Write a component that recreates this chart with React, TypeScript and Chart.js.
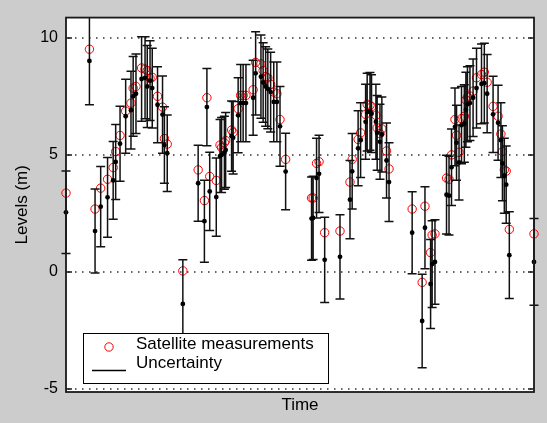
import { useEffect, useRef } from "react";
import { Chart, registerables } from "chart.js";

Chart.register(...registerables);

// ---- data (time in days from first sample) ----
const TIME_DAYS = [
  0, 75, 93, 111, 133, 151, 159, 173, 191, 208,
  215, 224, 242, 253, 260, 269, 276, 293, 309, 315,
  324, 374, 423, 443, 451, 460, 481, 493, 498, 507,
  511, 530, 535, 551, 559, 567, 576, 599, 607, 624,
  631, 639, 646, 655, 665, 675, 685, 703, 786, 791,
  802, 810, 828, 877, 909, 916, 935, 943, 959, 964,
  973, 978, 992, 996, 1005, 1011, 1026, 1034, 1108, 1140,
  1149, 1167, 1172, 1181, 1218, 1226, 1234, 1245, 1250, 1258,
  1266, 1275, 1280, 1285, 1293, 1303, 1314, 1330, 1339, 1348,
  1367, 1383, 1392, 1397, 1403, 1409, 1419, 1498,
];

const SATELLITE = [
  3.36, 9.5, 2.68, 3.57, 3.95, 4.45, 5.13, 5.82, 6.86, 7.2,
  7.84, 7.91, 8.7, 8.65, 8.59, 8.26, 8.3, 7.49, 7.03, 5.69,
  5.45, 0.04, 4.35, 3.04, 7.43, 4.07, 3.9, 5.41, 5.3, 5.51,
  5.6, 6.05, 5.95, 6.96, 7.53, 7.53, 7.53, 7.77, 8.94, 8.87,
  8.59, 8.33, 8.28, 8.0, 7.67, 7.6, 6.5, 4.8, 3.15, 3.15,
  4.63, 4.7, 1.67, 1.74, 3.83, 4.8, 5.65, 5.93, 6.72, 7.15,
  7.1, 7.05, 6.68, 6.14, 5.9, 6.1, 5.16, 4.39, 2.68, -0.45,
  2.8, 0.82, 1.57, 1.62, 4.0, 3.95, 4.99, 6.5, 5.83, 5.1,
  6.54, 6.64, 7.34, 7.46, 7.5, 7.71, 8.28, 8.42, 8.52, 8.09,
  7.06, 6.64, 5.88, 5.13, 4.35, 4.3, 1.81, 1.62,
];

const ESTIMATE = [
  2.54, 9.0, 1.74, 2.78, 3.18, 3.9, 4.69, 5.47, 6.64, 6.9,
  7.49, 7.6, 8.23, 8.28, 7.91, 8.16, 7.84, 7.13, 6.71, 5.41,
  5.06, -1.37, 3.78, 2.16, 7.03, 3.43, 3.19, 4.94, 4.99, 5.08,
  5.2, 5.79, 5.72, 6.68, 7.2, 7.2, 7.2, 7.43, 8.47, 8.33,
  8.08, 7.91, 7.81, 7.67, 7.25, 7.25, 6.21, 4.28, 2.27, 2.3,
  4.0, 4.18, 0.51, 0.64, 3.08, 4.29, 5.27, 5.62, 6.4, 6.82,
  6.85, 6.75, 6.4, 5.93, 5.55, 5.86, 4.75, 3.83, 1.67, -2.1,
  1.88, -0.52, 0.33, 0.42, 3.29, 3.25, 4.46, 6.19, 5.51, 4.67,
  6.26, 6.33, 6.92, 7.15, 7.2, 7.43, 7.84, 8.02, 8.05, 7.6,
  6.72, 6.36, 5.62, 4.63, 4.1, 3.72, 0.71, 0.42,
];

const UNCERTAINTY = [
  1.76, 1.87, 1.79, 1.71, 1.7, 1.66, 1.6, 1.6, 1.58, 1.66,
  1.7, 1.7, 1.8, 1.75, 1.75, 1.7, 1.7, 1.62, 1.65, 1.63,
  1.63, 1.88, 1.62, 1.75, 1.65, 1.67, 1.67, 1.56, 1.6, 1.56,
  1.6, 1.5, 1.55, 1.6, 1.65, 1.65, 1.65, 1.6, 1.78, 1.78,
  1.7, 1.7, 1.7, 1.7, 1.7, 1.7, 1.7, 1.63, 1.78, 1.78,
  1.7, 1.65, 1.82, 1.8, 1.67, 1.61, 1.6, 1.6, 1.6, 1.66,
  1.66, 1.66, 1.6, 1.6, 1.6, 1.6, 1.6, 1.68, 1.75, 2.0,
  1.75, 1.9, 1.85, 1.8, 1.68, 1.68, 1.63, 1.66, 1.6, 1.6,
  1.65, 1.65, 1.6, 1.6, 1.6, 1.65, 1.7, 1.7, 1.7, 1.67,
  1.63, 1.6, 1.6, 1.6, 1.6, 1.65, 1.85, 1.85,
];

const Y_TICKS = [-5, 0, 5, 10];
const X_RANGE = [0, 1498];
const Y_RANGE = [-5.13, 10.85];
const SERIES_LABELS = ["Satellite measurements", "Uncertainty"];
const X_TITLE = "Time";
const Y_TITLE = "Levels (m)";

const FONT = '"Liberation Sans", Arial, Helvetica, sans-serif';

const matlabPlugin = {
  id: "matlabLook",
  beforeDraw(chart: any) {
    const { ctx, chartArea: a, width, height } = chart;
    ctx.save();
    ctx.fillStyle = "#cccccc";
    ctx.fillRect(0, 0, width, height);
    ctx.fillStyle = "#ffffff";
    ctx.fillRect(a.left, a.top, a.right - a.left, a.bottom - a.top);
    const ys = chart.scales.y;
    ctx.strokeStyle = "#333333";
    ctx.lineWidth = 1.5;
    ctx.setLineDash([1.5, 5.5]);
    for (const t of ys.ticks) {
      const py = Math.round(ys.getPixelForValue(t.value));
      ctx.beginPath();
      ctx.moveTo(a.left + 2, py);
      ctx.lineTo(a.right, py);
      ctx.stroke();
    }
    ctx.restore();
  },
  beforeDatasetDraw(chart: any, args: any) {
    if (args.index !== 1) return;
    const { ctx, chartArea: a } = chart;
    const xs = chart.scales.x;
    const ys = chart.scales.y;
    ctx.save();
    ctx.beginPath();
    ctx.rect(0, a.top, chart.width, a.bottom - a.top);
    ctx.clip();
    ctx.strokeStyle = "#111111";
    ctx.lineWidth = 1.5;
    ctx.beginPath();
    TIME_DAYS.forEach((t, i) => {
      const px = xs.getPixelForValue(t);
      const lo = ys.getPixelForValue(ESTIMATE[i] - UNCERTAINTY[i]);
      const hi = ys.getPixelForValue(ESTIMATE[i] + UNCERTAINTY[i]);
      ctx.moveTo(px, lo);
      ctx.lineTo(px, hi);
      ctx.moveTo(px - 4.5, lo);
      ctx.lineTo(px + 4.5, lo);
      ctx.moveTo(px - 4.5, hi);
      ctx.lineTo(px + 4.5, hi);
    });
    ctx.stroke();
    ctx.restore();
  },
  afterDraw(chart: any) {
    const { ctx, chartArea: a } = chart;
    const ys = chart.scales.y;
    ctx.save();
    // frame
    ctx.strokeStyle = "#1a1a1a";
    ctx.lineWidth = 1.8;
    ctx.strokeRect(a.left, a.top, a.right - a.left, a.bottom - a.top);
    // inward ticks on both sides
    ctx.lineWidth = 1.5;
    ctx.beginPath();
    for (const t of ys.ticks) {
      const py = Math.round(ys.getPixelForValue(t.value));
      ctx.moveTo(a.left, py);
      ctx.lineTo(a.left + 6, py);
      ctx.moveTo(a.right - 6, py);
      ctx.lineTo(a.right, py);
    }
    ctx.stroke();

    // legend box
    const bx = a.left + 17;
    const by = a.bottom - 59;
    const bw = 245;
    const bh = 50;
    ctx.fillStyle = "#ffffff";
    ctx.fillRect(bx, by, bw, bh);
    ctx.strokeStyle = "#000000";
    ctx.lineWidth = 1;
    ctx.strokeRect(bx + 0.5, by + 0.5, bw, bh);

    const ds = chart.data.datasets;
    // satellite marker
    ctx.strokeStyle = "#ff0000";
    ctx.lineWidth = 1;
    ctx.beginPath();
    ctx.arc(bx + 26, by + 14, 4.2, 0, Math.PI * 2);
    ctx.stroke();
    // uncertainty line
    ctx.strokeStyle = "#000000";
    ctx.lineWidth = 1.5;
    ctx.beginPath();
    ctx.moveTo(bx + 9, by + 37.5);
    ctx.lineTo(bx + 43, by + 37.5);
    ctx.stroke();

    ctx.fillStyle = "#000000";
    ctx.font = `17px ${FONT}`;
    ctx.textAlign = "left";
    ctx.textBaseline = "alphabetic";
    ctx.fillText(ds[0].label, bx + 53, by + 16);
    ctx.fillText(ds[1].label, bx + 53, by + 35);
    ctx.restore();
  },
};

export default function App() {
  const canvasRef = useRef<HTMLCanvasElement | null>(null);

  useEffect(() => {
    document.body.style.margin = "0";
    const canvas = canvasRef.current;
    if (!canvas) return;

    const satellite = TIME_DAYS.map((t, i) => ({ x: t, y: SATELLITE[i] }));
    const estimate = TIME_DAYS.map((t, i) => ({ x: t, y: ESTIMATE[i] }));

    const chart = new Chart(canvas, {
      type: "scatter",
      data: {
        datasets: [
          {
            label: SERIES_LABELS[0],
            data: satellite,
            pointStyle: "circle",
            pointRadius: 4.2,
            pointBorderColor: "#ff0000",
            pointBackgroundColor: "rgba(0,0,0,0)",
            pointBorderWidth: 1,
            showLine: false,
            order: 2,
            clip: false,
          } as any,
          {
            label: SERIES_LABELS[1],
            data: estimate,
            pointStyle: "circle",
            pointRadius: 2.4,
            pointBorderWidth: 0,
            pointBackgroundColor: "#000000",
            pointBorderColor: "#000000",
            showLine: false,
            order: 1,
            clip: false,
          } as any,
        ],
      },
      options: {
        animation: false,
        responsive: false,
        devicePixelRatio: 1,
        events: [],
        layout: { padding: { top: 15, right: 13, left: 0, bottom: 0 } },
        plugins: {
          legend: { display: false },
          tooltip: { enabled: false },
        },
        scales: {
          x: {
            type: "linear",
            min: X_RANGE[0],
            max: X_RANGE[1],
            grid: { display: false, drawTicks: false },
            border: { display: false },
            ticks: { display: false },
            title: {
              display: true,
              text: X_TITLE,
              color: "#000000",
              font: { family: FONT, size: 17 },
              padding: { top: 0, bottom: 7 },
            },
            afterFit: (scale: any) => {
              scale.height = 31;
            },
          },
          y: {
            type: "linear",
            min: Y_RANGE[0],
            max: Y_RANGE[1],
            grid: { display: false, drawTicks: false },
            border: { display: false },
            afterBuildTicks: (scale: any) => {
              scale.ticks = Y_TICKS.map((v) => ({ value: v }));
            },
            ticks: {
              color: "#000000",
              font: { family: FONT, size: 16 },
              padding: 8,
              autoSkip: false,
            },
            title: {
              display: true,
              text: Y_TITLE,
              color: "#000000",
              font: { family: FONT, size: 17 },
              padding: { top: 12, bottom: 0 },
            },
            afterFit: (scale: any) => {
              scale.width = 66;
            },
          },
        },
      } as any,
      plugins: [matlabPlugin],
    });

    return () => chart.destroy();
  }, []);

  return (
    <canvas
      ref={canvasRef}
      width={547}
      height={423}
      style={{ display: "block", width: 547, height: 423 }}
    />
  );
}
